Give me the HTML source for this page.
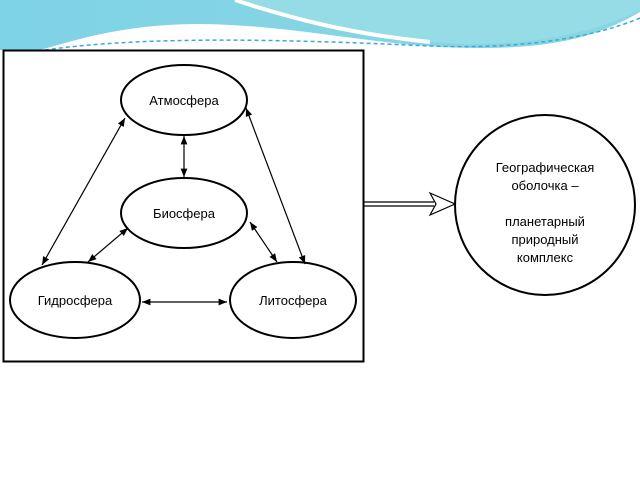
<!DOCTYPE html>
<html><head><meta charset="utf-8"><style>body{margin:0;background:#fff;width:640px;height:480px;overflow:hidden}</style></head><body>
<svg width="640" height="480" viewBox="0 0 640 480" xmlns="http://www.w3.org/2000/svg" font-family="Liberation Sans, sans-serif">
<defs>
<linearGradient id="g1" x1="0" y1="0" x2="1" y2="0"><stop offset="0" stop-color="#7fd3e6"/><stop offset="1" stop-color="#8ad6e2"/></linearGradient>
<marker id="a" viewBox="0 0 10 10" refX="10" refY="5" markerWidth="7" markerHeight="7" orient="auto-start-reverse"><path d="M0,1 L10,5 L0,9 z" fill="#000"/></marker>
</defs>
<path d="M0,0 H640 V12 C600,35 560,48 480,48 C380,48 300,25 200,24 C120,24 70,42 40,50 H0 Z" fill="url(#g1)"/>
<path d="M240,0 C300,20 370,38 460,44 C540,46 600,30 640,10 V0 Z" fill="#95dce6"/>
<path d="M235,0 C290,18 350,34 430,42" stroke="#fff" stroke-width="4" fill="none"/>
<path d="M45,50 C150,35 300,40 430,46 C530,50 600,35 640,18" stroke="#3aa9d8" stroke-width="1.5" stroke-dasharray="4,3" fill="none"/>
<rect x="3.5" y="50.5" width="360" height="311" fill="#fff" stroke="#000" stroke-width="2"/>
<g fill="#fff" stroke="#000" stroke-width="2">
<ellipse cx="184" cy="100" rx="63" ry="35"/>
<ellipse cx="184" cy="213" rx="63" ry="35"/>
<ellipse cx="75" cy="300" rx="65" ry="38"/>
<ellipse cx="293" cy="300" rx="63" ry="38"/>
<circle cx="545" cy="205" r="90"/>
</g>
<g stroke="#000" stroke-width="1.2" marker-start="url(#a)" marker-end="url(#a)">
<line x1="184" y1="136" x2="184" y2="177"/>
<line x1="125" y1="118" x2="42" y2="265"/>
<line x1="246" y1="108" x2="305" y2="264"/>
<line x1="128" y1="228" x2="88" y2="262"/>
<line x1="250" y1="222" x2="277" y2="262"/>
<line x1="142" y1="302" x2="227" y2="302"/>
</g>
<path d="M363,202 H434 M363,206 H434" stroke="#000" stroke-width="1.2"/>
<path d="M430,193 L455,204 L430,215 L436,204 Z" fill="#fff" stroke="#000" stroke-width="1.2"/>
<g font-size="13" text-anchor="middle" fill="#000">
<text x="184" y="105">Атмосфера</text>
<text x="184" y="218">Биосфера</text>
<text x="75" y="305">Гидросфера</text>
<text x="293" y="305">Литосфера</text>
<text x="545" y="172">Географическая</text>
<text x="545" y="190">оболочка –</text>
<text x="545" y="226">планетарный</text>
<text x="545" y="244">природный</text>
<text x="545" y="262">комплекс</text>
</g>
</svg>
</body></html>
